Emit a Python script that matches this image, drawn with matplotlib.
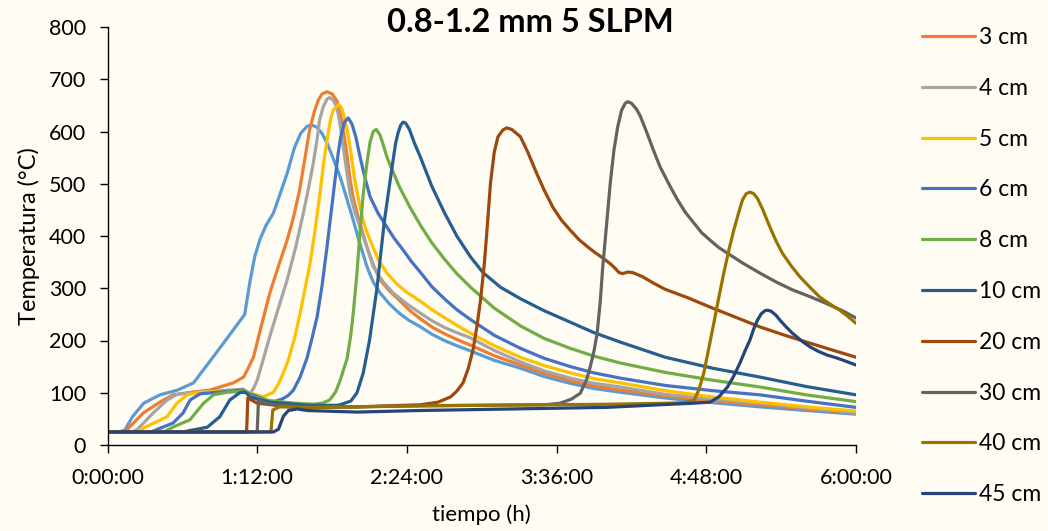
import matplotlib
matplotlib.use('Agg')
import matplotlib.pyplot as plt

plt.rcParams['font.family'] = ['Lato', 'DejaVu Sans']

# ---------------- data (time in hours, temperature in °C) ----------------
x_tick_hours = [0, 1.2, 2.4, 3.6, 4.8, 6.0]
x_tick_labels = ['0:00:00', '1:12:00', '2:24:00', '3:36:00', '4:48:00', '6:00:00']
y_ticks = [0, 100, 200, 300, 400, 500, 600, 700, 800]

# unlabelled first series (light blue, not shown in legend)
t_s0 = [0, 0.10, 0.14, 0.20, 0.29, 0.42, 0.56, 0.69, 0.82, 0.93, 1.10, 1.14, 1.18, 1.22, 1.27, 1.33,
        1.38, 1.44, 1.50, 1.55, 1.60, 1.64, 1.68, 1.72, 1.76, 1.81, 1.865, 1.92, 1.97, 2.02, 2.08,
        2.13, 2.185, 2.26, 2.34, 2.42, 2.51, 2.60, 2.70, 2.80, 2.91, 3.10, 3.31, 3.50, 3.71, 3.90,
        4.11, 4.47, 4.85, 5.23, 5.60, 6.0]
T_s0 = [25, 25, 29, 54, 80, 96, 105, 119, 160, 195, 250, 310, 360, 392, 420, 444,
        478, 520, 570, 597, 610, 612, 608, 596, 578, 548, 513, 470, 430, 388, 341,
        312, 291, 270, 252, 238, 226, 212, 200, 190, 180, 162, 147, 131, 118, 108,
        101, 90, 81, 73, 66, 59]

t_3cm = [0, 0.14, 0.16, 0.285, 0.42, 0.525, 0.64, 0.82, 1.01, 1.09, 1.10, 1.13, 1.17, 1.23, 1.30,
         1.37, 1.44, 1.49, 1.54, 1.58, 1.62, 1.66, 1.69, 1.72, 1.76, 1.80, 1.84, 1.87, 1.89, 1.92,
         1.945, 1.97, 2.00, 2.04, 2.08, 2.13, 2.185, 2.26, 2.34, 2.42, 2.51, 2.60, 2.70, 2.80, 2.91,
         3.10, 3.31, 3.50, 3.71, 3.90, 4.11, 4.47, 4.85, 5.23, 5.60, 6.0]
T_3cm = [25, 25, 30, 61, 82, 96, 100, 105, 119, 130, 134, 148, 168, 225, 290,
         342, 392, 435, 488, 545, 603, 640, 660, 672, 676, 672, 658, 630, 603, 555,
         507, 472, 444, 410, 379, 345, 316, 295, 277, 258, 241, 226, 213, 202, 191,
         171, 153, 137, 123, 113, 105, 94, 85, 77, 69, 61]

t_4cm = [0, 0.20, 0.24, 0.365, 0.477, 0.557, 0.742, 1.087, 1.14, 1.17, 1.20, 1.25, 1.30, 1.37, 1.44,
         1.51, 1.57, 1.61, 1.65, 1.68, 1.70, 1.73, 1.76, 1.78, 1.81, 1.84, 1.87, 1.89, 1.92, 1.945,
         1.98, 2.025, 2.08, 2.13, 2.21, 2.29, 2.40, 2.51, 2.60, 2.70, 2.80, 2.91, 3.10, 3.31, 3.50,
         3.71, 3.90, 4.11, 4.47, 4.85, 5.23, 5.60, 6.0]
T_4cm = [25, 25, 30, 61, 86, 97, 101, 107, 98, 108, 124, 165, 207, 262, 316,
         380, 444, 490, 540, 585, 622, 648, 662, 665, 660, 645, 605, 570, 520, 480,
         448, 417, 378, 341, 312, 291, 270, 252, 238, 225, 215, 205, 181, 159, 142,
         128, 118, 111, 97, 88, 80, 71, 62]

t_5cm = [0, 0.24, 0.285, 0.477, 0.557, 0.638, 0.742, 1.087, 1.14, 1.25, 1.33, 1.37, 1.41, 1.45, 1.50,
         1.544, 1.58, 1.624, 1.66, 1.70, 1.73, 1.76, 1.79, 1.81, 1.85, 1.87, 1.89, 1.92, 1.945, 1.98,
         2.025, 2.06, 2.105, 2.17, 2.24, 2.32, 2.40, 2.51, 2.60, 2.70, 2.80, 2.91, 3.10, 3.31, 3.50,
         3.71, 3.90, 4.11, 4.47, 4.85, 5.23, 5.60, 6.0]
T_5cm = [25, 25, 32, 54, 80, 96, 101, 103, 100, 92, 101, 117, 138, 163, 205,
         252, 295, 348, 405, 475, 535, 584, 625, 641, 651, 648, 635, 605, 570, 510,
         455, 420, 392, 355, 329, 308, 292, 275, 259, 244, 229, 214, 190, 168, 152,
         138, 127, 119, 104, 92, 82, 73, 65]

t_6cm = [0, 0.35, 0.40, 0.525, 0.605, 0.662, 0.742, 1.087, 1.14, 1.32, 1.40, 1.45, 1.49, 1.544, 1.60,
         1.64, 1.68, 1.72, 1.76, 1.79, 1.82, 1.85, 1.87, 1.90, 1.93, 1.96, 1.99, 2.025, 2.06, 2.105,
         2.17, 2.24, 2.30, 2.37, 2.44, 2.51, 2.60, 2.70, 2.80, 2.91, 3.10, 3.31, 3.50, 3.71, 3.90,
         4.11, 4.47, 4.85, 5.23, 5.60, 6.0]
T_6cm = [25, 25, 30, 42, 61, 86, 98, 105, 98, 82, 88, 95, 105, 130, 167,
         205, 245, 305, 380, 440, 500, 560, 590, 618, 626, 614, 590, 551, 515, 475,
         443, 417, 395, 373, 350, 330, 303, 280, 259, 240, 210, 185, 166, 150, 138,
         128, 114, 104, 96, 84, 72]

t_8cm = [0, 0.45, 0.54, 0.66, 0.77, 0.85, 0.96, 1.10, 1.16, 1.30, 1.50, 1.65, 1.72, 1.78, 1.83,
         1.865, 1.90, 1.92, 1.95, 1.97, 2.00, 2.025, 2.05, 2.08, 2.105, 2.13, 2.155, 2.185, 2.21, 2.24,
         2.29, 2.34, 2.42, 2.51, 2.60, 2.70, 2.80, 2.91, 3.10, 3.31, 3.50, 3.71, 3.90, 4.11, 4.47,
         4.85, 5.23, 5.60, 6.0]
T_8cm = [25, 25, 36, 48, 80, 96, 101, 103, 92, 85, 80, 78, 80, 86, 102,
         124, 150, 165, 210, 252, 330, 411, 480, 540, 580, 600, 604, 593, 575, 551,
         522, 494, 457, 420, 387, 356, 328, 302, 262, 228, 204, 185, 170, 157, 139,
         124, 111, 96, 83]

t_10cm = [0, 0.60, 0.69, 0.80, 0.90, 0.98, 1.06, 1.10, 1.12, 1.14, 1.30, 1.60, 1.85, 1.95, 2.00,
          2.05, 2.10, 2.16, 2.22, 2.28, 2.31, 2.33, 2.35, 2.37, 2.39, 2.42, 2.46, 2.51, 2.60, 2.70,
          2.80, 2.91, 3.01, 3.15, 3.31, 3.50, 3.71, 3.90, 4.11, 4.47, 4.85, 5.23, 5.60, 6.0]
T_10cm = [25, 25, 29, 34, 54, 86, 100, 101, 98, 92, 82, 76, 76, 84, 100,
          138, 200, 300, 430, 530, 578, 598, 612, 618, 616, 604, 578, 550, 495, 445,
          400, 360, 330, 302, 280, 257, 235, 215, 197, 168, 147, 130, 112, 96]

t_20cm = [0, 1.115, 1.125, 1.20, 1.50, 2.00, 2.51, 2.65, 2.75, 2.80, 2.85, 2.89, 2.93, 2.96, 2.99,
          3.02, 3.04, 3.07, 3.10, 3.13, 3.17, 3.20, 3.24, 3.31, 3.37, 3.44, 3.50, 3.57, 3.64, 3.71,
          3.78, 3.85, 3.91, 3.97, 4.03, 4.07, 4.10, 4.13, 4.17, 4.21, 4.25, 4.29, 4.375, 4.47, 4.65,
          4.83, 5.03, 5.23, 5.43, 5.63, 5.82, 6.0]
T_20cm = [25, 25, 90, 80, 72, 73, 77, 82, 92, 103, 119, 145, 182, 225, 277,
          345, 405, 501, 560, 590, 603, 607, 604, 590, 560, 520, 488, 455, 430, 411,
          393, 379, 368, 358, 347, 338, 330, 328, 331, 330, 326, 322, 310, 298, 282,
          264, 245, 226, 210, 195, 181, 168]

t_30cm = [0, 1.20, 1.21, 1.30, 1.60, 2.00, 2.50, 3.00, 3.50, 3.63, 3.72, 3.79, 3.84, 3.87, 3.90,
          3.925, 3.95, 3.97, 4.00, 4.03, 4.06, 4.09, 4.12, 4.15, 4.17, 4.20, 4.24, 4.27, 4.32, 4.375,
          4.43, 4.51, 4.57, 4.63, 4.70, 4.76, 4.83, 4.90, 4.97, 5.10, 5.23, 5.36, 5.49, 5.63, 5.77,
          5.90, 6.0]
T_30cm = [25, 25, 85, 78, 72, 73, 75, 76, 77, 80, 88, 99, 125, 150, 180,
          214, 275, 341, 420, 501, 565, 609, 640, 654, 657, 654, 643, 630, 600, 565,
          532, 495, 469, 446, 425, 407, 392, 378, 367, 347, 329, 312, 297, 284, 270,
          256, 243]

t_40cm = [0, 1.31, 1.325, 1.38, 1.60, 2.00, 2.50, 3.00, 3.50, 4.00, 4.50, 4.62, 4.70, 4.74, 4.78,
          4.82, 4.86, 4.90, 4.94, 4.98, 5.02, 5.06, 5.09, 5.12, 5.15, 5.18, 5.21, 5.25, 5.31, 5.36,
          5.41, 5.48, 5.55, 5.63, 5.71, 5.79, 5.87, 5.94, 6.0]
T_40cm = [25, 25, 67, 73, 72, 73, 75, 76, 77, 78, 80, 81, 85, 105, 138,
          185, 233, 282, 329, 372, 411, 445, 469, 481, 484, 481, 472, 452, 417, 390,
          367, 343, 322, 302, 283, 270, 258, 245, 233]

t_45cm = [0, 1.33, 1.37, 1.41, 1.45, 1.52, 1.60, 2.00, 2.50, 3.00, 3.50, 4.00, 4.43, 4.70, 4.83,
          4.90, 4.97, 5.02, 5.07, 5.11, 5.15, 5.18, 5.21, 5.24, 5.27, 5.29, 5.32, 5.36, 5.39, 5.44,
          5.49, 5.56, 5.63, 5.70, 5.77, 5.84, 5.90, 6.0]
T_45cm = [25, 25, 30, 55, 66, 69, 66, 63, 66, 68, 70, 72, 77, 80, 82,
          92, 111, 132, 157, 180, 201, 222, 239, 251, 257, 258, 256, 248, 239, 226,
          214, 200, 188, 179, 172, 167, 162, 153]

labels = ['3 cm', '4 cm', '5 cm', '6 cm', '8 cm', '10 cm', '20 cm', '30 cm', '40 cm', '45 cm']
colors = ['#ED7D31', '#A5A5A5', '#FFC000', '#4472C4', '#70AD47', '#255E91',
          '#9E480E', '#636363', '#997300', '#264478']
first_color = '#5B9BD5'

series_t = [t_3cm, t_4cm, t_5cm, t_6cm, t_8cm, t_10cm, t_20cm, t_30cm, t_40cm, t_45cm]
series_T = [T_3cm, T_4cm, T_5cm, T_6cm, T_8cm, T_10cm, T_20cm, T_30cm, T_40cm, T_45cm]

# ---------------- figure ----------------
BG = '#FFFCF3'
FS_TICK = 15.5
FS_LAB = 16
FS_LEG = 16.5
fig = plt.figure(figsize=(10.48, 5.31), dpi=100, facecolor=BG)
ax = fig.add_axes([107.5 / 1048, 1 - 445 / 531, (856 - 107.5) / 1048, (445 - 27) / 531])
ax.set_facecolor(BG)

lw = 2.3
ax.plot(t_s0, T_s0, color=first_color, lw=lw, solid_capstyle='round', solid_joinstyle='round')
handles = []
for t, T, c, lab in zip(series_t, series_T, colors, labels):
    h, = ax.plot(t, T, color=c, lw=lw, label=lab, solid_capstyle='round', solid_joinstyle='round')
    handles.append(h)

ax.set_xlim(0, 6.0)
ax.set_ylim(0, 800)
ax.set_xticks(x_tick_hours)
ax.set_xticklabels(x_tick_labels)
ax.set_yticks(y_ticks)

for s in ['top', 'right']:
    ax.spines[s].set_visible(False)
for s in ['left', 'bottom']:
    ax.spines[s].set_color('black')
    ax.spines[s].set_linewidth(1.0)

ax.tick_params(axis='both', direction='out', length=5.5, width=1.0, colors='black', labelsize=FS_TICK)
ax.tick_params(axis='x', pad=11)
ax.tick_params(axis='y', pad=10)

ax.set_xlabel('tiempo (h)', fontsize=FS_LAB, labelpad=12)
ax.set_ylabel('Temperatura (°C)', fontsize=17, labelpad=6)

fig.text(530 / 1048, 1 - 23 / 531, '0.8-1.2 mm 5 SLPM', ha='center', va='center',
         fontsize=23.5, fontweight='bold')

leg = ax.legend(handles=handles, loc='upper left', bbox_to_anchor=(922 / 1048, 1 - 27 / 531),
                bbox_transform=fig.transFigure, frameon=False, fontsize=FS_LEG,
                handlelength=2.31, handletextpad=0.17, labelspacing=1.30,
                borderpad=0, borderaxespad=0)

fig.savefig('out.png', dpi=100, facecolor=BG)
